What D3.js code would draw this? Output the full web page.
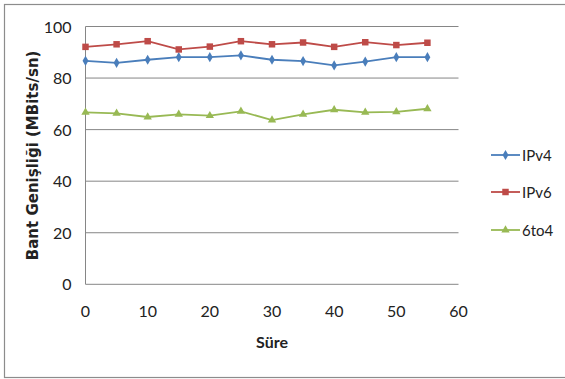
<!DOCTYPE html>
<html>
<head>
<meta charset="utf-8">
<script src="https://cdn.jsdelivr.net/npm/d3@7"></script>
<style>
  body { margin: 0; background: #fff; }
  text { font-family: Lato, "Open Sans", sans-serif; fill: #222; }
</style>
</head>
<body>
<div id="chart"></div>
<script>
// Süre (x) values and bandwidth series
const times = [0, 5, 10, 15, 20, 25, 30, 35, 40, 45, 50, 55];
const ipv4 = [86.7, 85.9, 87.1, 88.1, 88.1, 88.8, 87.1, 86.6, 84.9, 86.4, 88.1, 88.1];
const ipv6 = [92.1, 93.1, 94.3, 91.1, 92.2, 94.3, 93.1, 93.8, 92.1, 93.9, 92.8, 93.7];
const sixto4 = [66.7, 66.3, 64.9, 65.9, 65.4, 67.1, 63.7, 65.9, 67.7, 66.7, 66.9, 68.1];
const xTicks = [0, 10, 20, 30, 40, 50, 60];
const yTicks = [0, 20, 40, 60, 80, 100];

const series = [
  {name: "IPv4", values: ipv4, color: "#4a7ebb", shape: "diamond"},
  {name: "IPv6", values: ipv6, color: "#be4b48", shape: "square"},
  {name: "6to4", values: sixto4, color: "#98b954", shape: "triangle"}
];

const W = 565, H = 379;
const margin = {top: 26.5, right: 106, bottom: 95, left: 85.5};

const svg = d3.select("#chart").append("svg")
  .attr("width", W).attr("height", H);

// outer frame
svg.append("rect")
  .attr("x", 4.5).attr("y", 4.5)
  .attr("width", W + 10).attr("height", 373)
  .attr("fill", "none").attr("stroke", "#8c8c8c").attr("stroke-width", 1.2);

const x = d3.scaleLinear().domain([0, 60]).range([margin.left, W - margin.right - 0.5]);
const y = d3.scaleLinear().domain([0, 100]).range([H - margin.bottom + 0.3, margin.top]);

// gridlines
svg.append("g").selectAll("line")
  .data(yTicks)
  .join("line")
  .attr("x1", x(0)).attr("x2", x(60))
  .attr("y1", d => y(d)).attr("y2", d => y(d))
  .attr("stroke", "#868686").attr("stroke-width", 1);

// y axis line
svg.append("line")
  .attr("x1", x(0)).attr("x2", x(0))
  .attr("y1", y(0)).attr("y2", y(100))
  .attr("stroke", "#868686");

// tick labels
svg.append("g").selectAll("text")
  .data(yTicks)
  .join("text")
  .attr("x", x(0) - 14)
  .attr("y", d => y(d) + 6)
  .attr("text-anchor", "end")
  .attr("font-size", 16)
  .text(d => d);

svg.append("g").selectAll("text")
  .data(xTicks)
  .join("text")
  .attr("x", d => x(d))
  .attr("y", y(0) + 33)
  .attr("text-anchor", "middle")
  .attr("font-size", 16)
  .text(d => d);

// axis titles
svg.append("text")
  .attr("x", (x(0) + x(60)) / 2)
  .attr("y", 348)
  .attr("text-anchor", "middle")
  .attr("font-size", 16)
  .attr("font-weight", "bold")
  .text("Süre");

svg.append("text")
  .attr("transform", `translate(38,${(y(0) + y(100)) / 2}) rotate(-90)`)
  .attr("text-anchor", "middle")
  .style("font-family", "'DejaVu Sans', sans-serif")
  .attr("font-size", 15)
  .attr("font-weight", "bold")
  .text("Bant Genişliği (MBits/sn)");

const symbolFor = s => {
  if (s === "diamond") return d3.symbol().type(d3.symbolDiamond).size(30);
  if (s === "square") return d3.symbol().type(d3.symbolSquare).size(42);
  return d3.symbol().type(d3.symbolTriangle).size(30);
};

const line = d3.line()
  .x((d, i) => x(times[i]))
  .y(d => y(d));

series.forEach(s => {
  svg.append("path")
    .datum(s.values)
    .attr("fill", "none")
    .attr("stroke", s.color)
    .attr("stroke-width", 1.8)
    .attr("d", line);

  svg.append("g").selectAll("path")
    .data(s.values)
    .join("path")
    .attr("transform", (d, i) => `translate(${x(times[i])},${y(d)})`)
    .attr("d", symbolFor(s.shape)())
    .attr("fill", s.color);
});

// legend
const legendY = [155, 192, 230];
const legend = svg.append("g");
series.forEach((s, i) => {
  const g = legend.append("g").attr("transform", `translate(491,${legendY[i]})`);
  g.append("line").attr("x1", 0).attr("x2", 29)
    .attr("stroke", s.color).attr("stroke-width", 1.8);
  g.append("path").attr("transform", "translate(14.5,0)")
    .attr("d", symbolFor(s.shape)()).attr("fill", s.color);
  g.append("text").attr("x", 31).attr("y", 5.5)
    .attr("font-size", 15).text(s.name);
});
</script>
</body>
</html>
